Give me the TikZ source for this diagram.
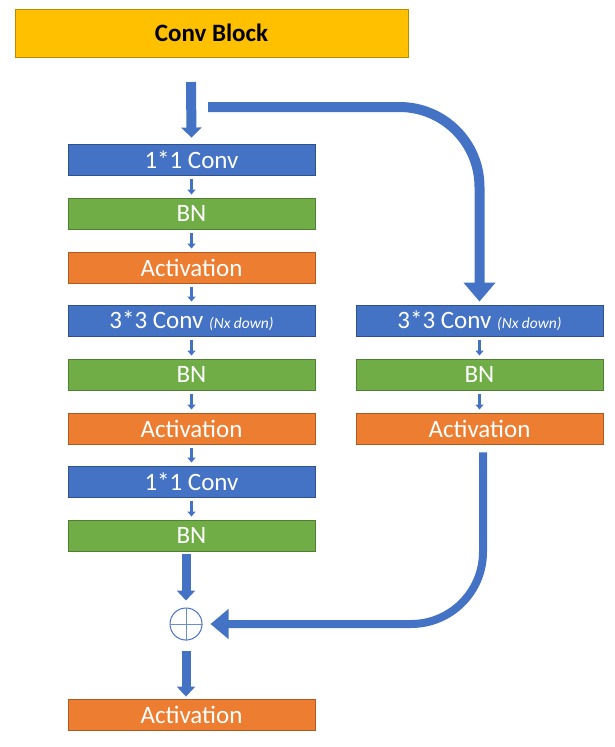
\documentclass[tikz,border=0pt]{standalone}
\usepackage{fontspec}
\setmainfont{Carlito}
\usetikzlibrary{arrows.meta}
\definecolor{cblue}{HTML}{4472C4}
\definecolor{cblueD}{HTML}{2F528F}
\definecolor{cgreen}{HTML}{70AD47}
\definecolor{cgreenD}{HTML}{507E32}
\definecolor{corange}{HTML}{ED7D31}
\definecolor{corangeD}{HTML}{AE5A21}
\definecolor{cgold}{HTML}{FFC000}
\definecolor{cgoldD}{HTML}{BC8C00}
\tikzset{
  box/.style={rectangle, minimum width=247pt, minimum height=31pt, inner sep=0pt,
    line width=0.9pt, text=white, font=\fontsize{25}{29}\selectfont},
  convbox/.style={box, fill=cblue, draw=cblueD},
  bnbox/.style={box, fill=cgreen, draw=cgreenD},
  actbox/.style={box, fill=corange, draw=corangeD},
  titlebox/.style={rectangle, minimum width=393pt, minimum height=48pt, inner sep=0pt,
    fill=cgold, draw=cgoldD, line width=0.9pt, font=\fontsize{25}{29}\selectfont\bfseries},
  smallarrow/.style={draw=cblue, line width=2.6pt, -{Triangle[width=8pt,length=5pt]}},
  bigarrow/.style={draw=cblue, line width=10pt, -{Triangle[width=20pt,length=10pt]}},
  midarrow/.style={draw=cblue, line width=9pt, -{Triangle[width=18pt,length=10pt]}},
  skiparrow/.style={draw=cblue, line width=10pt, -{Triangle[width=31pt,length=19pt]}},
  retarrow/.style={draw=cblue, line width=8pt, -{Triangle[width=29pt,length=18pt]}},
  addnode/.style={circle, minimum size=32pt, inner sep=0pt, draw=cblue, line width=1pt, fill=white},
}
\newcommand{\nxd}{{\fontsize{15.5}{18}\selectfont\itshape (Nx down)}}
\begin{document}
\begin{tikzpicture}[x=1pt, y=-1pt]
\useasboundingbox (0,0) rectangle (614,747);
% title
\node[titlebox] (title) at (211.5,33) {Conv Block};
% left column
\node[convbox] (l1) at (191.5,159.5) {1*1 Conv};
\node[bnbox]   (l2) at (191.5,213.5) {BN};
\node[actbox]  (l3) at (191.5,267.5) {Activation};
\node[convbox] (l4) at (191.5,320.5) {3*3 Conv \nxd};
\node[bnbox]   (l5) at (191.5,374.5) {BN};
\node[actbox]  (l6) at (191.5,428.5) {Activation};
\node[convbox] (l7) at (191.5,481.5) {1*1 Conv};
\node[bnbox]   (l8) at (191.5,535.5) {BN};
\node[addnode] (plus) at (186,624) {};
\node[actbox]  (out) at (191.5,714.5) {Activation};
% right column
\node[convbox] (r1) at (479.5,320.5) {3*3 Conv \nxd};
\node[bnbox]   (r2) at (479.5,374.5) {BN};
\node[actbox]  (r3) at (479.5,428.5) {Activation};
% plus sign
\draw[cblue!80, line width=0.8pt] (plus.north) -- (plus.south) (plus.west) -- (plus.east);
% coordinates
\coordinate (in) at (191,82);
\coordinate (s0) at (208,107);
% input arrow
\draw[bigarrow] (in) -- ([yshift=6pt]l1.north);
% skip path
\draw[skiparrow, rounded corners=80pt] (s0) -| ([yshift=3pt]r1.north);
% small arrows left
\foreach \a/\b in {l1/l2,l2/l3,l3/l4,l4/l5,l5/l6,l6/l7,l7/l8}
  \draw[smallarrow] ([yshift=-4pt]\a.south) -- ([yshift=3pt]\b.north);
% small arrows right
\foreach \a/\b in {r1/r2,r2/r3}
  \draw[smallarrow] ([yshift=-4pt]\a.south) -- ([yshift=3pt]\b.north);
% to add
\draw[midarrow] ([yshift=-3pt]l8.south -| plus) -- ([yshift=7pt]plus.north);
\draw[retarrow, rounded corners=72pt] ([xshift=3.5pt,yshift=-8pt]r3.south) |- ([xshift=8pt]plus.east);
\draw[midarrow] ([yshift=-10pt]plus.south) -- ([yshift=2pt]out.north -| plus);
\end{tikzpicture}
\end{document}
